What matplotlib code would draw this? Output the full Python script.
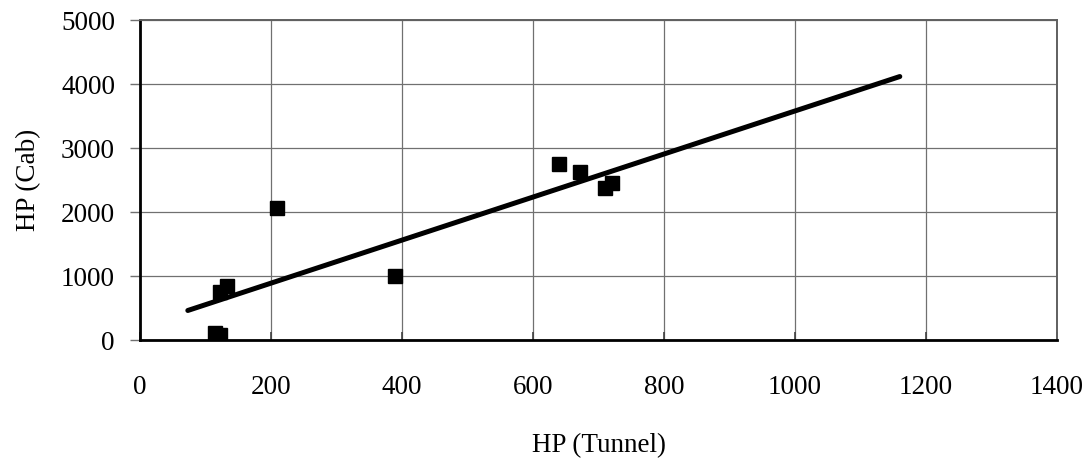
import matplotlib
matplotlib.use("Agg")
import matplotlib.pyplot as plt
import numpy as np

# HP measured in the tunnel vs. HP in the cab
hp_tunnel = [114, 122, 122, 133, 209, 389, 640, 672, 710, 720]
hp_cab = [110, 80, 745, 840, 2065, 1000, 2750, 2620, 2380, 2450]

# extent of the drawn trend line (forecast both ways)
trend_from = 73
trend_to = 1160

x_ticks = [0, 200, 400, 600, 800, 1000, 1200, 1400]
y_ticks = [0, 1000, 2000, 3000, 4000, 5000]

plt.rcParams['font.family'] = ['Liberation Serif', 'DejaVu Serif']

fig = plt.figure(figsize=(10.91, 4.63), dpi=100)
ax = fig.add_axes([140 / 1091, 1 - 340 / 463, 917 / 1091, 320 / 463])

slope, icpt = np.polyfit(hp_tunnel, hp_cab, 1)
tx = np.array([trend_from, trend_to])
ax.plot(tx, slope * tx + icpt, color='black', lw=3.6, solid_capstyle='round', zorder=3)

ax.plot(hp_tunnel, hp_cab, ls='none', marker='s', ms=9.6, color='black', zorder=4)

ax.set_xlim(0, 1400)
ax.set_ylim(0, 5000)
ax.set_xticks(x_ticks)
ax.set_yticks(y_ticks)
ax.grid(True, color='#707070', lw=0.9)
ax.set_axisbelow(True)

for s in ['top', 'right']:
    ax.spines[s].set_color('#606060')
    ax.spines[s].set_linewidth(1.4)
for s in ['left', 'bottom']:
    ax.spines[s].set_color('black')
    ax.spines[s].set_linewidth(2.0)

ax.tick_params(axis='y', direction='out', length=7, width=1, color='#707070',
               labelsize=19.5, pad=11)
ax.tick_params(axis='x', direction='in', length=6, width=1.2, color='#404040',
               labelsize=19.5, pad=25)

ax.set_xlabel("HP (Tunnel)", fontsize=19.5, labelpad=24)
ax.set_ylabel("HP (Cab)", fontsize=19.5, labelpad=14)

fig.savefig("out.png", dpi=100)
